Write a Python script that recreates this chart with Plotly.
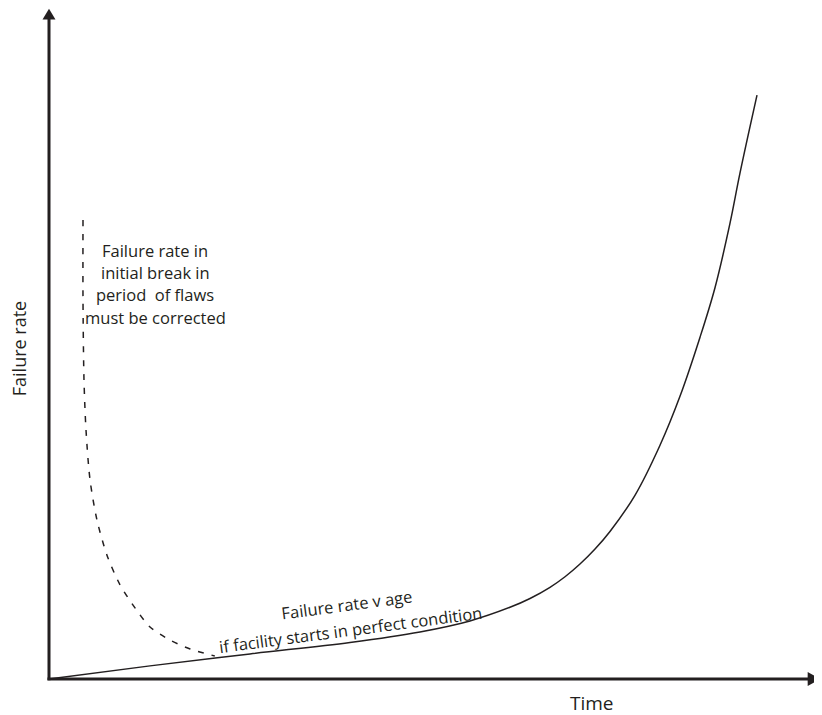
import plotly.graph_objects as go

# solid curve: failure rate v age (arbitrary units, 0-100)
age_time = [0, 13.10, 26.07, 39.04, 48.12, 54.60, 59.79, 62.39, 64.98, 66.93, 68.87, 70.82, 72.76,
            76.00, 79.25, 81.84, 84.44, 86.38, 88.33, 89.62, 91.83]
age_rate = [0, 1.95, 3.73, 5.44, 7.00, 8.63, 10.65, 11.96, 13.62, 15.19, 17.08, 19.31, 21.92,
            27.30, 34.74, 42.01, 50.79, 58.14, 67.73, 75.16, 86.75]

# dashed curve: initial break-in period
breakin_time = [4.41, 4.41, 4.54, 4.80, 5.32, 6.23, 7.52, 9.21, 11.2, 13.1, 15.7, 18.3, 21.5]
breakin_rate = [68.2, 56.3, 44.4, 37.0, 29.6, 23.6, 18.4, 14.0, 10.5, 7.73, 5.79, 4.46, 3.42]

note_lines = ["Failure rate in", "initial break in", "period  of flaws", "must be corrected"]
curve_lines = ["Failure rate v age", "if facility starts in perfect condition"]

INK = "#231f20"
FONT = "Open Sans"

fig = go.Figure()
fig.add_trace(go.Scatter(x=age_time, y=age_rate, mode="lines",
                         line=dict(color=INK, width=1.5, shape="spline", smoothing=1.0, simplify=False)))
fig.add_trace(go.Scatter(x=breakin_time, y=breakin_rate, mode="lines",
                         line=dict(color=INK, width=1.5, dash="6px,8px", shape="spline",
                                   smoothing=0.8, simplify=False)))

# axes drawn by hand, with arrowheads
fig.add_shape(type="line", x0=0, x1=0, y0=-0.2, y1=98.2, line=dict(color=INK, width=3))
fig.add_shape(type="line", x0=-0.2, x1=98.5, y0=0, y1=0, line=dict(color=INK, width=3))
fig.add_shape(type="path", path="M -0.84 98.0 L 0.84 98.0 L 0 99.6 Z", fillcolor=INK, line=dict(width=0))
fig.add_shape(type="path", path="M 98.4 -1.04 L 98.4 1.04 L 100.0 0 Z", fillcolor=INK, line=dict(width=0))

def txt(size):
    return dict(showarrow=False, font=dict(family=FONT, size=size, color=INK))

fig.add_annotation(x=-3.89, y=49.0, text="Failure rate", textangle=-90, **txt(18))
fig.add_annotation(x=70.43, y=-3.57, text="Time", **txt(19))
for i, line in enumerate(note_lines):
    fig.add_annotation(x=13.75, y=63.74 - i * 3.32, text=line, **txt(16.5))
fig.add_annotation(x=38.65, y=11.0, text=curve_lines[0], textangle=-7.5, **txt(16.5))
fig.add_annotation(x=39.04, y=7.4, text=curve_lines[1], textangle=-7.5, **txt(16.5))

# page body adds an 8px margin, so the figure is 8px smaller and the ranges start there
fig.update_layout(
    width=814, height=707,
    margin=dict(l=0, r=0, t=0, b=0),
    plot_bgcolor="white", paper_bgcolor="white",
    showlegend=False,
    xaxis=dict(range=[-5.318, 100.26], visible=False),
    yaxis=dict(range=[-5.349, 99.70], visible=False),
)

fig.write_html("out.html")
